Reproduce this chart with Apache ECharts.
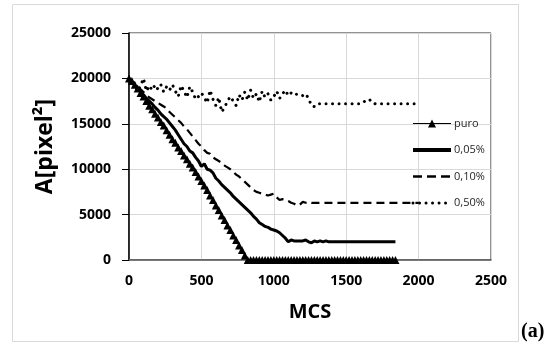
<!DOCTYPE html>
<html>
<head>
<meta charset="utf-8">
<script src="https://cdn.jsdelivr.net/npm/echarts@6/dist/echarts.min.js"></script>
<style>html,body{margin:0;padding:0;background:#fff;}#c{width:551px;height:350px;}</style>
</head>
<body>
<div id="c"></div>
<script>
const mcs = [0,20,40,60,80,100,120,140,160,180,200,220,240,260,280,300,320,340,360,380,
400,420,440,460,480,500,520,540,560,580,600,620,640,660,680,700,720,740,760,780,
800,820,840,860,880,900,920,940,960,980,1000,1020,1040,1060,1080,1100,1120,1140,1160,1180,
1200,1220,1240,1260,1280,1300,1320,1340,1360,1380,1400,1420,1440,1460,1480,1500,1520,1540,1560,1580,
1600,1620,1640,1660,1680,1700,1720,1740,1760,1780,1800,1820,1840,1860,1880,1900,1920,1940,1960,1980,2000];

const seriesNames = ['puro','0,05%','0,10%','0,50%'];

const puro = [20000,19700,19300,18900,18400,18000,17500,17000,16600,16100,15700,15200,14800,14300,13800,13300,12900,12400,12000,11500,
11100,10600,10200,9700,9200,8700,8200,7700,7100,6600,6000,5500,4900,4400,3800,3300,2700,2200,1600,1100,
500,0,0,0,0,0,0,0,0,0,0,0,0,0,0,0,0,0,0,0,
0,0,0,0,0,0,0,0,0,0,0,0,0,0,0,0,0,0,0,0,
0,0,0,0,0,0,0,0,0,0,0,0,0];

const p005 = [20000,19600,19200,18900,18500,18200,17800,17500,17200,16800,16500,16100,15800,15500,15100,14700,14300,13800,13300,12800,
12500,12000,11800,11300,10900,10300,10600,10000,9900,9600,9000,8700,8300,8000,7700,7400,7000,6700,6400,6100,
5800,5500,5200,4800,4500,4100,3900,3700,3600,3400,3300,3200,3000,2700,2400,2000,2200,2100,2100,2100,
2100,2200,2000,1900,2100,2000,2100,2000,2100,2000,2000,2000,2000,2000,2000,2000,2000,2000,2000,2000,
2000,2000,2000,2000,2000,2000,2000,2000,2000,2000,2000,2000,2000];

const p010 = [20000,19700,19400,19100,18800,18500,18200,17900,17700,17500,17300,17100,16900,16700,16300,16000,15700,15400,15100,14700,
14400,14000,13600,13200,12800,12500,12100,11800,11700,11300,11100,10900,10700,10400,10200,10000,9700,9400,9200,8900,
8600,8300,8000,7700,7500,7400,7300,7200,7100,7200,7300,6900,6600,6700,6600,6500,6300,6200,6000,6100,
6400,6300,6400,6300,6300,6300,6300,6300,6300,6300,6300,6300,6300,6300,6300,6300,6300,6300,6300,6300,
6300,6300,6300,6300,6300,6300,6300,6300,6300,6300,6300,6300,6300,6300,6300,6300,6300,6300,6300,6300,6300];

const p050 = [20000,19800,19300,18600,19200,20000,18600,19200,18700,19300,18800,19300,18500,19100,18700,19300,18600,18000,19200,18600,
17900,19100,18500,17700,18000,18400,17900,17300,18700,17700,17000,17900,16300,16800,17500,18000,17500,17000,18200,17600,
18500,17600,18700,17800,18300,17400,18600,17900,18300,17600,18000,18600,17800,18300,18700,18100,18400,18500,18200,18200,
18100,18300,17800,17000,16900,17200,17200,17200,17200,17200,17200,17200,17200,17200,17200,17200,17200,17200,17200,17200,
17200,17400,17600,17700,17300,17200,17200,17200,17200,17200,17200,17200,17200,17200,17200,17200,17200,17200,17200,17200,17200];

const yTicks = [0,5000,10000,15000,20000,25000];
const xTicks = [0,500,1000,1500,2000,2500];

function pairs(vals){ return vals.map((v,i)=>[mcs[i], v]); }

const chart = echarts.init(document.getElementById('c'));
const labelFont = {fontFamily:'Open Sans', fontWeight:'bold', fontSize:14, color:'#000', formatter:function(v){return String(v);}};
const dotStyle = {color:'#000', width:3, type:[0.01,6.5], cap:'round'};
chart.setOption({
  animation:false,
  backgroundColor:'#fff',
  grid:{left:129, right:60, top:33, bottom:90, show:true, borderColor:'#262626', borderWidth:1, containLabel:false},
  xAxis:{type:'value', min:xTicks[0], max:xTicks[xTicks.length-1], interval:500,
    name:'MCS', nameLocation:'middle', nameGap:42,
    nameTextStyle:{fontFamily:'Open Sans', fontWeight:'bold', fontSize:20, color:'#000'},
    axisLine:{show:true, onZero:false, lineStyle:{color:'#595959', width:1.5}},
    axisTick:{show:false},
    axisLabel:Object.assign({margin:14}, labelFont),
    splitLine:{show:true, lineStyle:{color:'#d9d9d9', width:1}}},
  yAxis:{type:'value', min:yTicks[0], max:yTicks[yTicks.length-1], interval:5000,
    name:'A[pixel²]', nameLocation:'middle', nameGap:72,
    nameTextStyle:{fontFamily:'Open Sans', fontWeight:'bold', fontSize:23, color:'#000'},
    axisLine:{show:true, lineStyle:{color:'#000', width:1.5}},
    axisTick:{show:true, inside:false, length:7, lineStyle:{color:'#000', width:1}},
    axisLabel:Object.assign({margin:18}, labelFont),
    splitLine:{show:true, lineStyle:{color:'#d9d9d9', width:1}}},
  legend:{orient:'vertical', left:406, top:113, itemWidth:38, itemHeight:10, itemGap:15.5,
    data:[
      {name:seriesNames[0], lineStyle:{width:1}},
      {name:seriesNames[1], itemStyle:{opacity:0}, lineStyle:{width:4}},
      {name:seriesNames[2], itemStyle:{opacity:0}, lineStyle:{width:2.5, type:[9,5]}},
      {name:seriesNames[3], itemStyle:{opacity:0}, lineStyle:{width:3, type:[0.01,6.5], cap:'round'}}
    ],
    textStyle:{fontFamily:'Open Sans', fontSize:11, color:'#262626', padding:[0,0,0,-2]}},
  graphic:[
    {type:'rect', shape:{x:12.5, y:4.5, width:506, height:337}, style:{fill:'none', stroke:'#d9d9d9', lineWidth:1}, z:-1},
    {type:'text', left:521, top:322, style:{text:'(a)', font:'bold 20px "Liberation Serif"', fill:'#000'}}
  ],
  series:[
    {name:seriesNames[0], type:'line', data:pairs(puro), symbol:'triangle', symbolSize:8, showSymbol:true, showAllSymbol:true,
      itemStyle:{color:'#000'}, lineStyle:{color:'#000', width:1}},
    {name:seriesNames[1], type:'line', data:pairs(p005), symbol:'none',
      itemStyle:{color:'#000'}, lineStyle:{color:'#000', width:3}},
    {name:seriesNames[2], type:'line', data:pairs(p010), symbol:'none',
      itemStyle:{color:'#000'}, lineStyle:{color:'#000', width:2.2, type:[8,5]}},
    {name:seriesNames[3], type:'line', data:pairs(p050), symbol:'none',
      itemStyle:{color:'#000'}, lineStyle:dotStyle}
  ]
});
</script>
</body>
</html>
